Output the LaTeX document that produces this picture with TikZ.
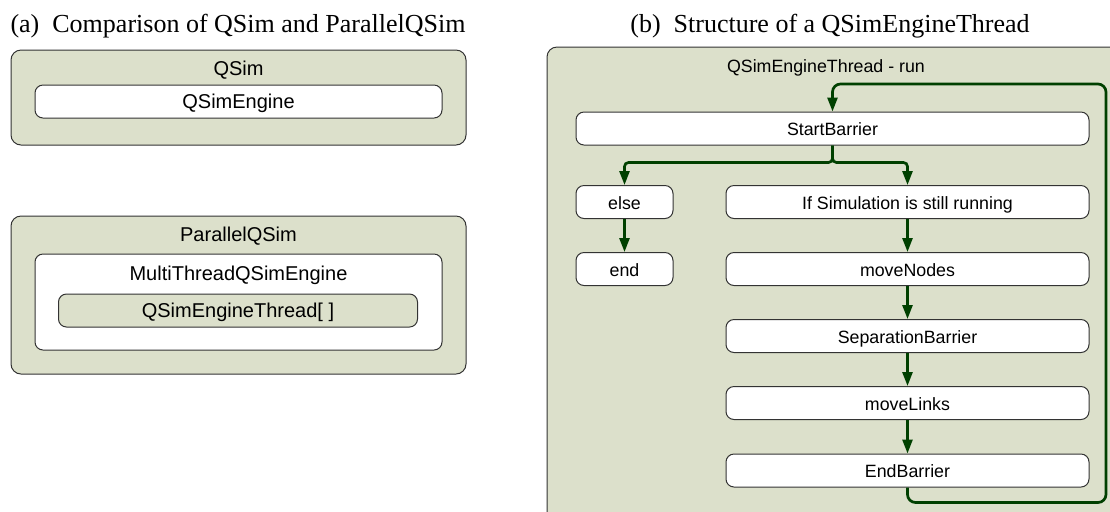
\documentclass[tikz,border=0pt]{standalone}
\usepackage{fontspec}
\setmainfont{Liberation Serif}
\newfontfamily\boxfont{Liberation Sans}
\usetikzlibrary{arrows.meta}

\definecolor{simgreen}{RGB}{220,224,203}
\definecolor{flowgreen}{RGB}{0,64,0}

\tikzset{
  capt/.style={anchor=base, inner sep=0pt, font=\fontsize{13}{15}\selectfont},
  outerbox/.style={draw=black!80, line width=0.5pt, fill=simgreen, rounded corners=5pt, inner sep=0pt},
  innerbox/.style={draw=black!80, line width=0.5pt, fill=white, rounded corners=4pt, inner sep=0pt},
  bigtext/.style={inner sep=0pt, text height=0.9em, text depth=0.18em, font=\boxfont\fontsize{10}{12}\selectfont},
  smalltext/.style={inner sep=0pt, text height=0.9em, text depth=0.18em, font=\boxfont\fontsize{8.9}{10}\selectfont},
  stepbox/.style={innerbox, smalltext, minimum height=16.5pt},
  flow/.style={draw=flowgreen, line width=1.35pt, rounded corners=2pt, -{Triangle[length=7pt,width=5pt]}},
}

\begin{document}
\begin{tikzpicture}[x=0.5pt,y=0.5pt,yscale=-1,xscale=1]
\clip (0,0) rectangle (1110,511);

% captions
\node[capt] (capa) at (238,32) {(a)\hspace{0.5em}Comparison of QSim and ParallelQSim};
\node[capt] (capb) at (830,32) {(b)\hspace{0.5em}Structure of a QSimEngineThread};

% (a) QSim
\node[outerbox, minimum width=227.5pt, minimum height=47.5pt] (qsim) at (238.5,97.5) {};
\node[bigtext] (qsimtitle) at (238.5,68) {QSim};
\node[innerbox, bigtext, minimum width=203.5pt, minimum height=16.5pt] (engine) at (238.5,101.5) {QSimEngine};

% (a) ParallelQSim
\node[outerbox, minimum width=227.5pt, minimum height=79pt] (pqsim) at (238.5,295) {};
\node[bigtext] (pqsimtitle) at (238.5,234) {ParallelQSim};
\node[innerbox, minimum width=203.5pt, minimum height=48pt] (mtengine) at (238.5,302) {};
\node[bigtext] (mttitle) at (238.5,273) {MultiThreadQSimEngine};
\node[innerbox, bigtext, fill=simgreen, minimum width=179.5pt, minimum height=16.5pt] (threads) at (238,310.5) {QSimEngineThread[ ]};

% (b) QSimEngineThread - run
\node[outerbox, minimum width=286pt, minimum height=246.5pt] (run) at (833,293.5) {};
\node[smalltext] (runtitle) at (826,65) {QSimEngineThread - run};

\node[stepbox, minimum width=256.5pt] (startb) at (832.5,128.5) {StartBarrier};
\node[stepbox, minimum width=48.5pt] (else) at (624.5,202) {else};
\node[stepbox, minimum width=48.5pt] (end) at (624.5,269) {end};
\node[stepbox, minimum width=181.5pt] (ifsim) at (907.5,202) {If Simulation is still running};
\node[stepbox, minimum width=181.5pt] (movenodes) at (907.5,269) {moveNodes};
\node[stepbox, minimum width=181.5pt] (sepb) at (907.5,336) {SeparationBarrier};
\node[stepbox, minimum width=181.5pt] (movelinks) at (907.5,403) {moveLinks};
\node[stepbox, minimum width=181.5pt] (endb) at (907.5,470.5) {EndBarrier};
\coordinate (loopcorner) at (1106,84);

% flow
\draw[flow] (startb.south) -- ++(0,17) -| (else.north);
\draw[flow] (startb.south) -- ++(0,17) -| (ifsim.north);
\draw[flow] (else) -- (end);
\draw[flow] (ifsim) -- (movenodes);
\draw[flow] (movenodes) -- (sepb);
\draw[flow] (sepb) -- (movelinks);
\draw[flow] (movelinks) -- (endb);
\draw[flow, rounded corners=4pt] (endb.south) -- ++(0,15) -| (loopcorner) -| (startb.north);

\end{tikzpicture}
\end{document}
